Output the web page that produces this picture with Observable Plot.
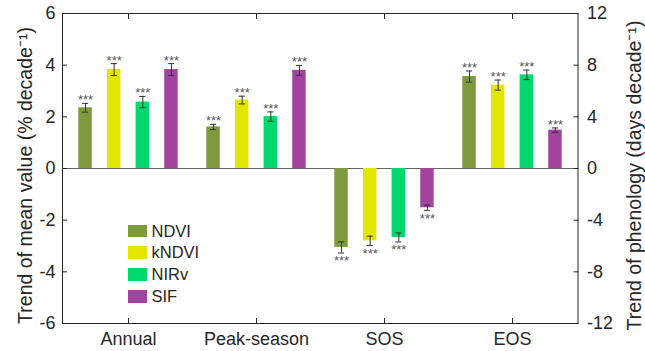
<!DOCTYPE html>
<html>
<head>
<meta charset="utf-8">
<script src="https://cdn.jsdelivr.net/npm/d3@7"></script>
<script src="https://cdn.jsdelivr.net/npm/@observablehq/plot@0.6"></script>
<style>
  html, body { margin: 0; padding: 0; background: #fff; }
  #wrap { position: relative; width: 645px; height: 351px; overflow: hidden; font-family: "Liberation Sans", Arial, sans-serif; }
  #legend { position: absolute; left: 128px; top: 220px; }
  .row { display: flex; align-items: center; height: 21.8px; }
  .sw { width: 19px; height: 12.5px; margin-right: 4.5px; }
  .lab { font-size: 16.5px; color: #262626; line-height: 1; }
</style>
</head>
<body>
<div id="wrap"><div id="legend"></div></div>
<script>
// ---- data ----
const groups = ["Annual", "Peak-season", "SOS", "EOS"];
const series = ["NDVI", "kNDVI", "NIRv", "SIF"];
const colors = ["#7b9b3e", "#e5e500", "#00da6c", "#a044a0"];
// mean-value trends (% decade-1), left axis
const annual = [2.35, 3.83, 2.57, 3.83];
const annualErr = [0.17, 0.23, 0.22, 0.23];
const peak = [1.61, 2.65, 2.01, 3.80];
const peakErr = [0.10, 0.15, 0.18, 0.19];
// phenology trends (days decade-1), right axis
const sos = [-6.11, -5.60, -5.34, -3.04];
const sosErr = [0.43, 0.36, 0.35, 0.20];
const eos = [7.12, 6.46, 7.25, 2.97];
const eosErr = [0.43, 0.39, 0.37, 0.17];
const leftTicks = [-6, -4, -2, 0, 2, 4, 6];
const rightTicks = [-12, -8, -4, 0, 4, 8, 12];
const leftTitle = "Trend of mean value (% decade\u207B\u00B9)";
const rightTitle = "Trend of phenology (days decade\u207B\u00B9)";

// right axis is twice the left axis
const ratio = 2;
const rows = [];
series.forEach((s, i) => {
  rows.push({group: "Annual", series: s, value: annual[i], err: annualErr[i]});
  rows.push({group: "Peak-season", series: s, value: peak[i], err: peakErr[i]});
  rows.push({group: "SOS", series: s, value: sos[i] / ratio, err: sosErr[i] / ratio});
  rows.push({group: "EOS", series: s, value: eos[i] / ratio, err: eosErr[i] / ratio});
});

// ---- layout (style) ----
const W = 645, H = 351, mL = 62, mR = 67.5, mT = 13, mB = 28;
const band = (W - mL - mR) / groups.length;
const step = band / 4.5;
const barW = step * 0.5;
const inset = (band - barW) / 2;
const capInset = (band - 7) / 2;
const off = i => (i - 1.5) * step;
const ink = "#262626";

const marks = [];
series.forEach((s, i) => {
  const d = rows.filter(r => r.series === s);
  marks.push(Plot.barY(d, {x: "group", y: "value", fill: colors[i], insetLeft: inset, insetRight: inset, dx: off(i)}));
  marks.push(Plot.ruleX(d, {x: "group", y1: r => r.value - r.err, y2: r => r.value + r.err, dx: off(i), stroke: "#333", strokeWidth: 1}));
  marks.push(Plot.tickY(d, {x: "group", y: r => r.value + r.err, dx: off(i), insetLeft: capInset, insetRight: capInset, stroke: "#333", strokeWidth: 1}));
  marks.push(Plot.tickY(d, {x: "group", y: r => r.value - r.err, dx: off(i), insetLeft: capInset, insetRight: capInset, stroke: "#333", strokeWidth: 1}));
  marks.push(Plot.text(d.filter(r => r.value > 0), {x: "group", y: r => r.value + r.err, text: () => "***", dx: off(i), dy: 1, lineAnchor: "bottom", fontSize: 13, fill: "#555"}));
  marks.push(Plot.text(d.filter(r => r.value < 0), {x: "group", y: r => r.value - r.err, text: () => "***", dx: off(i), dy: 3, lineAnchor: "top", fontSize: 13, fill: "#555"}));
});

const chart = Plot.plot({
  width: W, height: H,
  marginLeft: mL, marginRight: mR, marginTop: mT, marginBottom: mB,
  x: {domain: groups, padding: 0, axis: null},
  y: {domain: [-6, 6], axis: null},
  style: {fontFamily: "'Liberation Sans', Arial, sans-serif", background: "transparent", overflow: "visible"},
  marks: [
    Plot.ruleY([0], {stroke: "#666", strokeWidth: 1}),
    ...marks,
    Plot.frame({stroke: ink, strokeWidth: 1}),
    Plot.axisY(leftTicks, {anchor: "left", tickSize: -5, tickPadding: 12, tickFormat: d => String(d), fontSize: 18, fill: ink, stroke: ink, label: null}),
    Plot.axisY(rightTicks.map(d => d / ratio), {anchor: "right", tickSize: -5, tickPadding: 14, tickFormat: d => String(d * ratio), fontSize: 18, fill: ink, stroke: ink, label: null}),
    Plot.axisX({anchor: "bottom", tickSize: -5, tickPadding: 14, fontSize: 18, fill: ink, stroke: ink, label: null}),
    Plot.axisX({anchor: "top", tickSize: -5, tickFormat: () => "", stroke: ink, label: null}),
    Plot.text([leftTitle], {text: d => d, frameAnchor: "left", textAnchor: "middle", rotate: -90, lineAnchor: "bottom", dx: -31, dy: 7, fontSize: 19.5, fill: ink}),
    Plot.text([rightTitle], {text: d => d, frameAnchor: "right", textAnchor: "middle", rotate: -90, lineAnchor: "bottom", dx: 62.5, dy: 7, fontSize: 19.5, fill: ink})
  ]
});

const wrap = document.getElementById("wrap");
wrap.insertBefore(chart, wrap.firstChild);
const legend = document.getElementById("legend");
series.forEach((s, i) => {
  const row = document.createElement("div");
  row.className = "row";
  row.innerHTML = `<div class="sw" style="background:${colors[i]}"></div><div class="lab">${s}</div>`;
  legend.appendChild(row);
});
</script>
</body>
</html>
